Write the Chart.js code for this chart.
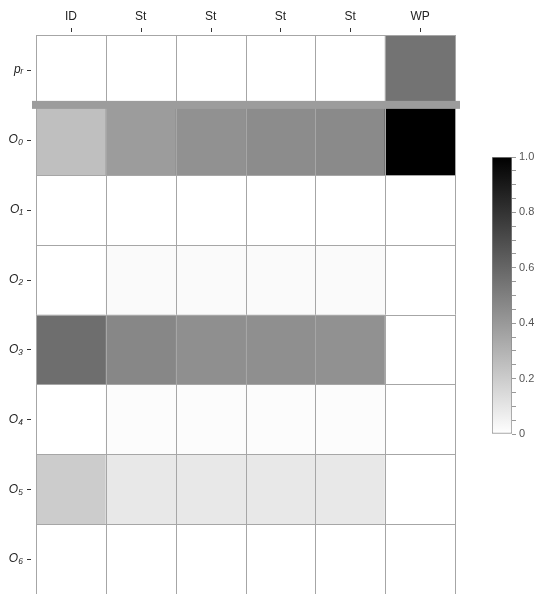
<!DOCTYPE html>
<html>
<head>
<meta charset="utf-8">
<script src="https://cdn.jsdelivr.net/npm/chart.js@4.4.1/dist/chart.umd.min.js"></script>
<style>
  body { margin: 0; background: #fff; }
  #wrap { position: relative; width: 537px; height: 594px; }
  #main { position: absolute; left: 0; top: 0; width: 537px; height: 594px; }
  #bar { position: absolute; left: 470px; top: 140px; width: 67px; height: 310px; }
</style>
</head>
<body>
<div id="wrap">
  <div id="main"><canvas id="heat"></canvas></div>
  <div id="bar"><canvas id="scale"></canvas></div>
</div>
<script>
// columns and rows of the grid
var columns = ['ID', 'St', 'St', 'St', 'St', 'WP'];
var rows = ['p\u1D63', 'O\u2080', 'O\u2081', 'O\u2082', 'O\u2083', 'O\u2084', 'O\u2085', 'O\u2086'];

// cell values, 0 = white, 1 = black
var pR = [0, 0, 0, 0, 0, 0.55];
var o0 = [0.25, 0.39, 0.43, 0.45, 0.46, 1.0];
var o1 = [0, 0, 0, 0, 0, 0];
var o2 = [0, 0.02, 0.02, 0.02, 0.02, 0];
var o3 = [0.57, 0.47, 0.44, 0.44, 0.43, 0];
var o4 = [0, 0.01, 0.01, 0.01, 0.01, 0];
var o5 = [0.2, 0.09, 0.09, 0.09, 0.09, 0];
var o6 = [0, 0, 0, 0, 0, 0];

// colour bar ticks
var barTicks = [0, 0.2, 0.4, 0.6, 0.8, 1.0];

var rowValues = [pR, o0, o1, o2, o3, o4, o5, o6];

function shade(v) {
    var g = Math.round(255 * (1 - v));
    return 'rgb(' + g + ',' + g + ',' + g + ')';
}

function noPadding(s) {
    s.paddingTop = 0;
    s.paddingBottom = 0;
    s.paddingLeft = 0;
    s.paddingRight = 0;
}

var datasets = rowValues.map(function (vals, r) {
    return {
        label: rows[r],
        data: vals.map(function () { return [r, r + 1]; }),
        backgroundColor: vals.map(shade),
        borderWidth: 0,
        grouped: false,
        barPercentage: 1,
        categoryPercentage: 1
    };
});

var gridPlugin = {
    id: 'gridLines',
    afterDatasetsDraw: function (chart) {
        var ctx = chart.ctx, x = chart.scales.x, y = chart.scales.y, a = chart.chartArea;
        ctx.save();
        ctx.strokeStyle = '#a6a6a6';
        ctx.lineWidth = 1;
        ctx.beginPath();
        for (var i = 0; i <= columns.length; i++) {
            var px = Math.round(x.getPixelForValue(i - 0.5)) + 0.5;
            ctx.moveTo(px, a.top);
            ctx.lineTo(px, a.bottom);
        }
        for (var k = 0; k <= rows.length; k++) {
            var py = Math.round(y.getPixelForValue(k)) + 0.5;
            ctx.moveTo(a.left, py);
            ctx.lineTo(a.right, py);
        }
        ctx.stroke();

        // tick marks at centres
        ctx.strokeStyle = '#333';
        ctx.beginPath();
        columns.forEach(function (c, i) {
            var px = Math.round(x.getPixelForValue(i)) + 0.5;
            ctx.moveTo(px, a.top - 7);
            ctx.lineTo(px, a.top - 3);
        });
        rows.forEach(function (r, i) {
            var py = Math.round(y.getPixelForValue(i + 0.5)) + 0.5;
            ctx.moveTo(a.left - 9, py);
            ctx.lineTo(a.left - 5, py);
        });
        ctx.stroke();

        // separator between p_r and the O rows
        var sy = y.getPixelForValue(1);
        ctx.fillStyle = '#9c9c9c';
        ctx.fillRect(a.left - 4, sy - 4, a.right - a.left + 9, 8);
        ctx.restore();
    }
};

new Chart(document.getElementById('heat').getContext('2d'), {
    type: 'bar',
    data: { labels: columns, datasets: datasets },
    options: {
        responsive: true,
        maintainAspectRatio: false,
        animation: false,
        layout: { padding: { left: 0, right: 82, top: 0, bottom: 0 } },
        plugins: { legend: { display: false }, tooltip: { enabled: false } },
        scales: {
            x: {
                position: 'top',
                grid: { display: false, drawTicks: false },
                border: { display: false },
                ticks: { padding: 11, color: '#222', font: { family: 'Liberation Sans', size: 12 } },
                afterFit: function (s) { s.height = 35; noPadding(s); }
            },
            y: {
                type: 'linear',
                reverse: true,
                min: 0,
                max: rows.length,
                grid: { display: false, drawTicks: false },
                border: { display: false },
                afterBuildTicks: function (s) {
                    s.ticks = rows.map(function (r, i) { return { value: i + 0.5 }; });
                },
                ticks: {
                    padding: 13,
                    color: '#222',
                    font: { family: 'Liberation Sans', size: 12, style: 'italic' },
                    callback: function (v, i) { return rows[i]; }
                },
                afterFit: function (s) { s.width = 36; noPadding(s); }
            }
        }
    },
    plugins: [gridPlugin]
});

// colour bar
new Chart(document.getElementById('scale').getContext('2d'), {
    type: 'bar',
    data: {
        labels: [''],
        datasets: [{
            data: [[0, 1]],
            backgroundColor: function (c) {
                var a = c.chart.chartArea;
                if (!a) return '#888';
                var g = c.chart.ctx.createLinearGradient(0, a.bottom, 0, a.top);
                g.addColorStop(0, shade(0));
                g.addColorStop(1, shade(1));
                return g;
            },
            borderColor: '#8a8a8a',
            borderWidth: 1,
            borderSkipped: false,
            barPercentage: 1,
            categoryPercentage: 1
        }]
    },
    options: {
        responsive: true,
        maintainAspectRatio: false,
        animation: false,
        layout: { padding: { left: 22, right: 0, top: 17, bottom: 16 } },
        plugins: { legend: { display: false }, tooltip: { enabled: false } },
        scales: {
            x: { display: false },
            y: {
                position: 'right',
                min: 0,
                max: 1,
                grid: { drawOnChartArea: false, drawTicks: true, tickLength: 4, tickColor: '#999' },
                border: { display: false },
                ticks: {
                    stepSize: 0.05,
                    autoSkip: false,
                    padding: 3,
                    color: '#555',
                    font: { family: 'Liberation Sans', size: 11 },
                    callback: function (v) {
                        var hit = barTicks.find(function (t) { return Math.abs(t - v) < 1e-6; });
                        if (hit === undefined) return '';
                        return hit === 0 ? '0' : hit.toFixed(1);
                    }
                },
                afterFit: function (s) { s.width = 25; }
            }
        }
    }
});
</script>
</body>
</html>
